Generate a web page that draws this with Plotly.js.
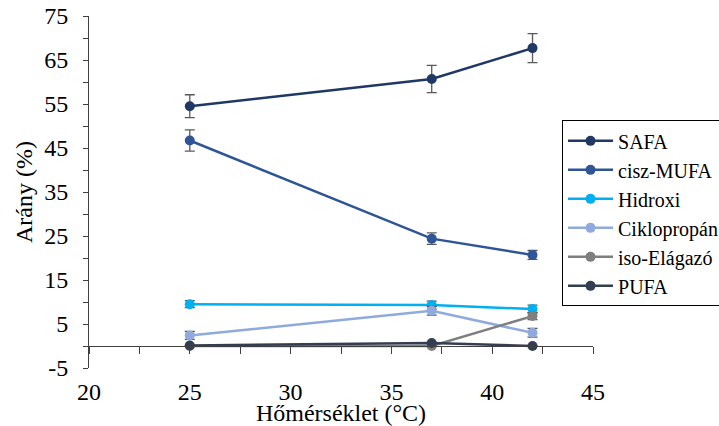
<!DOCTYPE html>
<html>
<head>
<meta charset="utf-8">
<script src="https://cdn.plot.ly/plotly-3.0.1.min.js"></script>
<style>
  html, body { margin: 0; padding: 0; background: #fff; }
  #chart { width: 719px; height: 426px; }
</style>
</head>
<body>
<div id="chart"></div>
<script>
// Fatty acid composition vs growth temperature
const temps = [25, 37, 42];

const seriesNames = ['SAFA', 'cisz-MUFA', 'Hidroxi', 'Ciklopropán', 'iso-Elágazó', 'PUFA'];

const safa       = [54.5, 60.7, 67.7];
const safaErr    = [2.6, 3.1, 3.3];
const mufa       = [46.7, 24.4, 20.7];
const mufaErr    = [2.4, 1.3, 1.0];
const hidroxi    = [9.5, 9.3, 8.4];
const hidroxiErr = [0.8, 0.9, 0.9];
const ciklo      = [2.4, 8.0, 3.0];
const cikloErr   = [0.9, 1.0, 1.0];
const iso        = [0.0, 0.0, 6.8];
const isoErr     = [0.0, 0.0, 0.8];
const pufa       = [0.1, 0.7, 0.0];
const pufaErr    = [0.1, 0.2, 0.1];

// tick marks every 2.5 °C, labels every 5 °C
const xTickVals = [20, 22.5, 25, 27.5, 30, 32.5, 35, 37.5, 40, 42.5, 45];
const xTickText = ['20', '', '25', '', '30', '', '35', '', '40', '', '45'];
// tick marks every 5 %, labels every 10 %
const yTickVals = [-5, 0, 5, 10, 15, 20, 25, 30, 35, 40, 45, 50, 55, 60, 65, 70, 75];
const yTickText = ['-5', '', '5', '', '15', '', '25', '', '35', '', '45', '', '55', '', '65', '', '75'];

const colors = ['#203864', '#2F5597', '#00B0F0', '#8FAADC', '#7F7F7F', '#333F50'];
const values = [safa, mufa, hidroxi, ciklo, iso, pufa];
const errors = [safaErr, mufaErr, hidroxiErr, cikloErr, isoErr, pufaErr];

const serifFamily = 'Times New Roman';

const traces = seriesNames.map((name, i) => ({
  type: 'scatter',
  mode: 'lines+markers',
  name: name,
  x: temps,
  y: values[i],
  line: { color: colors[i], width: 2.5 },
  marker: { color: colors[i], size: 10 },
  error_y: {
    type: 'data',
    array: errors[i],
    visible: true,
    color: '#595959',
    thickness: 1.3,
    width: 5
  }
}));

const axisColor = '#404040';
const yMin = -5, yMax = 75;

const layout = {
  width: 719,
  height: 426,
  margin: { l: 89, r: 126, t: 16, b: 58, autoexpand: false },
  paper_bgcolor: '#ffffff',
  plot_bgcolor: '#ffffff',
  font: { family: serifFamily, size: 24, color: '#000000' },
  showlegend: true,
  legend: {
    x: 0.9385, xanchor: 'left',
    y: 0.7035, yanchor: 'top',
    bgcolor: '#ffffff',
    bordercolor: '#000000',
    borderwidth: 1,
    font: { family: serifFamily, size: 20, color: '#000000' },
    itemwidth: 45,
    traceorder: 'normal'
  },
  // horizontal axis runs through y = 0; its labels sit below the plot
  xaxis: {
    range: [20, 45],
    anchor: 'free',
    position: (0 - yMin) / (yMax - yMin),
    tickvals: xTickVals,
    ticktext: xTickText,
    ticks: 'outside',
    ticklen: 7,
    tickcolor: axisColor,
    tickwidth: 1,
    ticklabelstandoff: 17,
    showline: true,
    linecolor: axisColor,
    linewidth: 1,
    showgrid: false,
    zeroline: false,
    tickfont: { family: serifFamily, size: 24, color: '#000000' },
    title: { text: 'Hőmérséklet (°C)', font: { family: serifFamily, size: 24, color: '#000000' }, standoff: 2 }
  },
  yaxis: {
    range: [yMin, yMax],
    tickvals: yTickVals,
    ticktext: yTickText,
    ticks: 'outside',
    ticklen: 5,
    tickcolor: axisColor,
    ticklabelstandoff: 10,
    showline: true,
    linecolor: axisColor,
    linewidth: 1,
    showgrid: false,
    zeroline: false,
    tickfont: { family: serifFamily, size: 24, color: '#000000' },
    title: { text: 'Arány (%)', font: { family: serifFamily, size: 24, color: '#000000' }, standoff: 4 }
  }
};

Plotly.newPlot('chart', traces, layout, { staticPlot: true, displayModeBar: false });
</script>
</body>
</html>
